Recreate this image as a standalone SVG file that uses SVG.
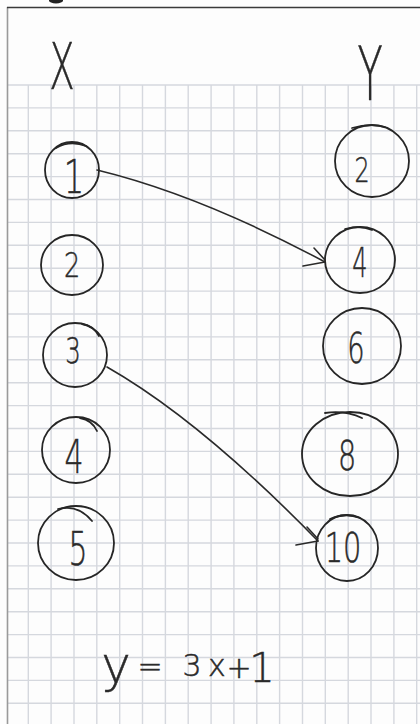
<svg xmlns="http://www.w3.org/2000/svg" width="420" height="724" viewBox="0 0 420 724">
<style>
.grid{stroke:#d5d8de;stroke-width:1.4;fill:none}
.ring{fill:none;stroke:#262626;stroke-width:1.8;stroke-linecap:round}
.hw{font-family:"DejaVu Sans","Liberation Sans",sans-serif;font-weight:200;fill:#2a2a2a;stroke:#2a2a2a;stroke-width:0.5;text-anchor:middle}
.edge{fill:none;stroke:#2a2a2a;stroke-width:1.6;stroke-linecap:round}
</style>
<defs>
<marker id="head" markerUnits="userSpaceOnUse" markerWidth="40" markerHeight="40" refX="0" refY="0" viewBox="-30 -20 40 40" orient="0" overflow="visible">
<path d="M-11,-14 L0,-2 M-22,4 L0,0" fill="none" stroke="#2a2a2a" stroke-width="1.6" stroke-linecap="round"/>
</marker>
</defs>
<rect width="420" height="724" fill="#fdfdfd"/>
<path class="grid" d="M28.3,85V724M51.1,85V724M74,85V724M96.8,85V724M119.7,85V724M142.5,85V724M165.4,85V724M188.2,85V724M211.1,85V724M233.9,85V724M256.8,85V724M279.6,85V724M302.5,85V724M325.3,85V724M348.2,85V724M371,85V724M393.9,85V724M416.7,85V724
M8,85H420M8,107.9H420M8,130.8H420M8,153.7H420M8,176.6H420M8,199.5H420M8,222.4H420M8,245.3H420M8,268.2H420M8,291.1H420M8,314H420M8,336.9H420M8,359.8H420M8,382.7H420M8,405.6H420M8,428.5H420M8,451.4H420M8,474.3H420M8,497.2H420M8,520.1H420M8,543H420M8,565.9H420M8,588.8H420M8,611.7H420M8,634.6H420M8,657.5H420M8,680.4H420M8,703.3H420"/>
<path d="M7.5,7V724" stroke="#9a9a9a" stroke-width="1.6"/>
<path d="M7,7.5H420" stroke="#3a3a3a" stroke-width="1.6"/>
<ellipse cx="56" cy="0.5" rx="7" ry="3" fill="#222"/>

<g id="label-x"><text class="hw" transform="translate(62,89) scale(0.58,1)" font-size="64">X</text></g>
<g id="label-y"><text class="hw" transform="translate(370,100) scale(0.55,1)" font-size="75">Y</text></g>

<g id="x1"><ellipse class="ring" cx="72" cy="170" rx="27" ry="28"/><path class="ring" d="M56,148 Q70,140 86,146"/><text class="hw" transform="translate(74,193) scale(0.7,1)" font-size="46">1</text></g>
<g id="x2"><ellipse class="ring" cx="72" cy="265" rx="31" ry="30"/><text class="hw" transform="translate(72,277) scale(0.75,1)" font-size="34">2</text></g>
<g id="x3"><ellipse class="ring" cx="75" cy="355" rx="32" ry="32"/><path class="ring" d="M82,324 Q94,326 99,336"/><text class="hw" transform="translate(73,363) scale(0.7,1)" font-size="35">3</text></g>
<g id="x4"><ellipse class="ring" cx="76" cy="450" rx="34" ry="33"/><path class="ring" d="M80,418 Q92,420 97,431"/><text class="hw" transform="translate(74,473) scale(0.65,1)" font-size="46">4</text></g>
<g id="x5"><ellipse class="ring" cx="76" cy="543" rx="38" ry="37"/><path class="ring" d="M58,509 Q78,504 92,521"/><text class="hw" transform="translate(78,565) scale(0.65,1)" font-size="46">5</text></g>

<g id="y2"><ellipse class="ring" cx="372" cy="161" rx="37" ry="36"/><path class="ring" d="M352,128 Q370,123 385,127"/><text class="hw" transform="translate(362,182) scale(0.7,1)" font-size="34">2</text></g>
<g id="y4"><ellipse class="ring" cx="360" cy="260" rx="35" ry="33"/><path class="ring" d="M345,229 Q360,225 372,230"/><text class="hw" transform="translate(360,277) scale(0.6,1)" font-size="40">4</text></g>
<g id="y6"><ellipse class="ring" cx="362" cy="346" rx="39" ry="38"/><text class="hw" transform="translate(356,363) scale(0.65,1)" font-size="42">6</text></g>
<g id="y8"><ellipse class="ring" cx="350" cy="454" rx="48" ry="42"/><path class="ring" d="M325,413 Q345,410 362,418"/><text class="hw" transform="translate(347,470) scale(0.7,1)" font-size="41">8</text></g>
<g id="y10"><ellipse class="ring" cx="347" cy="548" rx="31" ry="33"/><path class="ring" d="M330,519 Q345,512 360,518"/><text class="hw" transform="translate(343,562) scale(0.72,1)" font-size="40">10</text></g>

<g id="connectors">
<path class="edge" d="M97,170 Q200,195 325,262" marker-end="url(#head)"/>
<path class="edge" d="M107,367 Q200,420 318,541" marker-end="url(#head)"/>
</g>

<g id="formula"><text class="hw" font-size="30"><tspan x="116" y="682" font-size="50">y</tspan><tspan x="150" y="677">=</tspan><tspan x="192" y="676">3</tspan><tspan x="217" y="676">x</tspan><tspan x="239" y="678">+</tspan><tspan x="262" y="682" font-size="40">1</tspan></text></g>
</svg>
